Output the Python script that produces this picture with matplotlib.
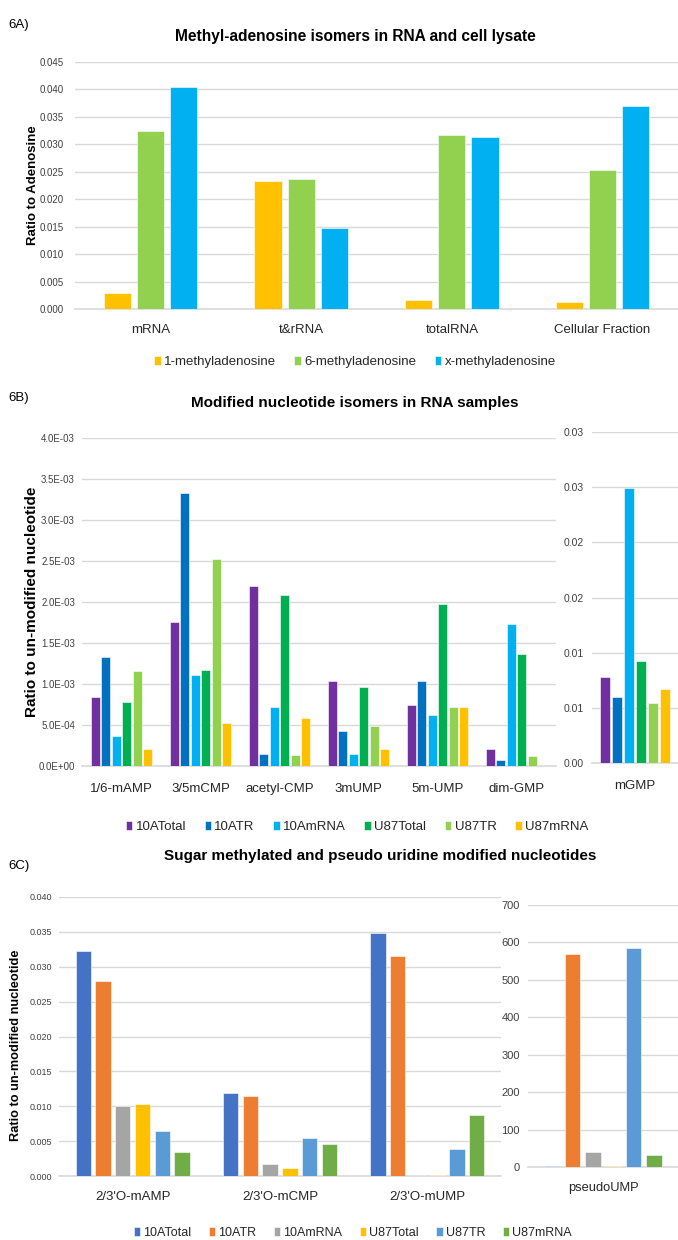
import numpy as np
import matplotlib
matplotlib.use('Agg')
import matplotlib.pyplot as plt

plt.rcParams['font.family'] = ['Liberation Sans', 'DejaVu Sans']

# ---- 6A data ----
a_categories = ['mRNA', 't&rRNA', 'totalRNA', 'Cellular Fraction']
a_series = ['1-methyladenosine', '6-methyladenosine', 'x-methyladenosine']
m1_adenosine = [0.0029, 0.0233, 0.0016, 0.0013]
m6_adenosine = [0.0325, 0.0237, 0.0317, 0.0253]
mx_adenosine = [0.0404, 0.0148, 0.0314, 0.0369]
a_colors = ['#FFC000', '#92D050', '#00B0F0']

# ---- 6B data ----
b_categories = ['1/6-mAMP', '3/5mCMP', 'acetyl-CMP', '3mUMP', '5m-UMP', 'dim-GMP']
b_series = ['10ATotal', '10ATR', '10AmRNA', 'U87Total', 'U87TR', 'U87mRNA']
b_10ATotal = [8.4e-4, 1.76e-3, 2.20e-3, 1.04e-3, 7.4e-4, 2.1e-4]
b_10ATR = [1.33e-3, 3.33e-3, 1.5e-4, 4.3e-4, 1.04e-3, 7e-5]
b_10AmRNA = [3.6e-4, 1.11e-3, 7.2e-4, 1.5e-4, 6.2e-4, 1.73e-3]
b_U87Total = [7.8e-4, 1.17e-3, 2.08e-3, 9.6e-4, 1.98e-3, 1.37e-3]
b_U87TR = [1.16e-3, 2.53e-3, 1.3e-4, 4.9e-4, 7.2e-4, 1.2e-4]
b_U87mRNA = [2.1e-4, 5.2e-4, 5.8e-4, 2.1e-4, 7.2e-4, 0.0]
mGMP_values = [0.0078, 0.0060, 0.0249, 0.0092, 0.0054, 0.0067]
mGMP_ticklabels = ['0.00', '0.01', '0.01', '0.02', '0.02', '0.03', '0.03']
b_colors = ['#7030A0', '#0070C0', '#00B0F0', '#00B050', '#92D050', '#FFC000']

# ---- 6C data ----
c_categories = ["2/3'O-mAMP", "2/3'O-mCMP", "2/3'O-mUMP"]
c_10ATotal = [0.0323, 0.0119, 0.0348]
c_10ATR = [0.0280, 0.0114, 0.0316]
c_10AmRNA = [0.0100, 0.0017, 0.0002]
c_U87Total = [0.0103, 0.0012, 0.0002]
c_U87TR = [0.0064, 0.0055, 0.0038]
c_U87mRNA = [0.0035, 0.0046, 0.0087]
pseudoUMP_values = [4, 570, 39, 4, 585, 33]
c_colors = ['#4472C4', '#ED7D31', '#A5A5A5', '#FFC000', '#5B9BD5', '#70AD47']

W, H = 678, 1240
fig = plt.figure(figsize=(W / 100, H / 100), dpi=100)
GRID = '#D9D9D9'


def px_axes(l, t, r, b):
    return fig.add_axes([l / W, 1 - b / H, (r - l) / W, (b - t) / H])


def style(ax, ncat, ymax, yticks, fmt, tick_size, cat_size, ypad=6, xpad=9):
    ax.set_xlim(-0.5, ncat - 0.5)
    ax.set_ylim(0, ymax)
    ax.set_yticks(yticks)
    if isinstance(fmt, list):
        ax.set_yticklabels(fmt)
    else:
        ax.set_yticklabels([fmt(v) for v in yticks])
    ax.yaxis.grid(True, color=GRID, linewidth=1)
    ax.set_axisbelow(True)
    for s in ['top', 'right', 'left']:
        ax.spines[s].set_visible(False)
    ax.spines['bottom'].set_color(GRID)
    ax.spines['bottom'].set_linewidth(1.2)
    ax.tick_params(axis='y', length=0, pad=ypad, labelsize=tick_size, labelcolor='#404040')
    ax.tick_params(axis='x', length=0, pad=xpad, labelsize=cat_size, labelcolor='#262626')


def grouped(ax, categories, series, colors, step, width):
    x = np.arange(len(categories))
    n = len(series)
    bars = []
    for i, (vals, col) in enumerate(zip(series, colors)):
        b = ax.bar(x + (i - (n - 1) / 2) * step, vals, width, color=col,
                   edgecolor='white', linewidth=0.4, zorder=3)
        bars.append(b)
    ax.set_xticks(x)
    ax.set_xticklabels(categories)
    return bars


def legend(handles, labels, cx, cy, size):
    fig.legend(handles, labels, loc='center', bbox_to_anchor=(cx / W, 1 - cy / H),
               ncol=len(labels), frameon=False, fontsize=size, handlelength=0.5,
               handleheight=0.75, handletextpad=0.25, columnspacing=1.4,
               labelcolor='#262626')


# ---------------- 6A ----------------
fig.text(8 / W, 1 - 25 / H, '6A)', fontsize=9.5, va='center', ha='left')
fig.text(355 / W, 1 - 36 / H, 'Methyl-adenosine isomers in RNA and cell lysate',
         fontsize=11.2, fontweight='bold', ha='center', va='center')
axA = px_axes(75, 62, 678, 309)
barsA = grouped(axA, a_categories, [m1_adenosine, m6_adenosine, mx_adenosine],
                a_colors, 0.22, 0.18)
style(axA, 4, 0.045, np.arange(0, 0.0451, 0.005), lambda v: f'{v:.3f}', 7, 9.5,
      ypad=8, xpad=11)
fig.text(33 / W, 1 - 185 / H, 'Ratio to Adenosine', rotation=90, fontsize=9.5,
         fontweight='bold', ha='center', va='center')
legend(barsA, a_series, 355, 362, 9.5)

# ---------------- 6B ----------------
fig.text(8 / W, 1 - 398 / H, '6B)', fontsize=9.5, va='center', ha='left')
fig.text(355 / W, 1 - 403 / H, 'Modified nucleotide isomers in RNA samples',
         fontsize=11, fontweight='bold', ha='center', va='center')
axB = px_axes(82, 438, 556, 766)
barsB = grouped(axB, b_categories,
                [b_10ATotal, b_10ATR, b_10AmRNA, b_U87Total, b_U87TR, b_U87mRNA],
                b_colors, 0.133, 0.11)
style(axB, 6, 0.004, np.arange(0, 0.00401, 0.0005), lambda v: f'{v:.1E}', 7, 9.5,
      ypad=5, xpad=12)
fig.text(32 / W, 1 - 602 / H, 'Ratio to un-modified nucleotide', rotation=90,
         fontsize=11, fontweight='bold', ha='center', va='center')

axB2 = px_axes(592, 432, 678, 763)
x1 = np.arange(len(mGMP_values))
axB2.bar((x1 - 2.5) * 0.14, mGMP_values, 0.108, color=b_colors,
         edgecolor='white', linewidth=0.4, zorder=3)
axB2.set_xticks([0])
axB2.set_xticklabels(['mGMP'])
style(axB2, 1, 0.03, np.arange(0, 0.0301, 0.005), mGMP_ticklabels, 7.5, 9.5,
      ypad=6, xpad=12)
legend(barsB, b_series, 357, 827, 9.5)

# ---------------- 6C ----------------
fig.text(8 / W, 1 - 866 / H, '6C)', fontsize=9.5, va='center', ha='left')
fig.text(380 / W, 1 - 856 / H, 'Sugar methylated and pseudo uridine modified nucleotides',
         fontsize=11, fontweight='bold', ha='center', va='center')
axC = px_axes(59, 897, 501, 1176)
barsC = grouped(axC, c_categories,
                [c_10ATotal, c_10ATR, c_10AmRNA, c_U87Total, c_U87TR, c_U87mRNA],
                c_colors, 0.134, 0.104)
style(axC, 3, 0.040, np.arange(0, 0.0401, 0.005), lambda v: f'{v:.3f}', 6.5, 9.5,
      ypad=5, xpad=11)
fig.text(16 / W, 1 - 1045 / H, 'Ratio to un-modified nucleotide', rotation=90,
         fontsize=9.2, fontweight='bold', ha='center', va='center')

axC2 = px_axes(528, 905, 678, 1167)
x2 = np.arange(len(pseudoUMP_values))
axC2.bar((x2 - 2.5) * 0.136, pseudoUMP_values, 0.104, color=c_colors,
         edgecolor='white', linewidth=0.4, zorder=3)
axC2.set_xticks([0])
axC2.set_xticklabels(['pseudoUMP'])
style(axC2, 1, 700, np.arange(0, 701, 100), lambda v: f'{v:.0f}', 8, 9.3,
      ypad=6, xpad=11)
legend(barsC, b_series, 353, 1233, 9)

fig.savefig('out.png', dpi=100)
